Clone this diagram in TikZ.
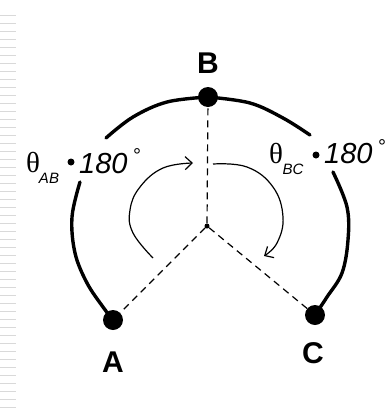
\documentclass[tikz,border=0pt]{standalone}
\usepackage{fontspec}
\setmainfont{Liberation Sans}
\newfontfamily\thetafont{Liberation Serif}
\usetikzlibrary{arrows.meta}
\begin{document}
\begin{tikzpicture}[x=1pt,y=-1pt,
  bigdot/.style={circle,fill=black,inner sep=0pt,minimum size=20pt},
  smalldot/.style={circle,fill=black,inner sep=0pt,minimum size=5pt},
  bullet/.style={circle,fill=black,inner sep=0pt,minimum size=7pt},
  arcline/.style={line width=3.4pt,line cap=round},
  radius line/.style={line width=1.2pt,dash pattern=on 7pt off 5pt},
  turn/.style={line width=1.2pt,-{Straight Barb[length=7pt,width=13pt,line width=1.2pt]}},
  letter/.style={font=\fontsize{30}{30}\selectfont\bfseries,inner sep=0pt},
  theta/.style={font=\fontsize{29}{29}\selectfont\thetafont,inner sep=0pt},
  sub/.style={font=\fontsize{15}{15}\selectfont\itshape,inner sep=0pt},
  deg/.style={font=\fontsize{29}{29}\selectfont\itshape,inner sep=0pt,anchor=base west},
  degsign/.style={font=\fontsize{20}{20}\selectfont,inner sep=0pt}]
\useasboundingbox (0,0) rectangle (386,416);
% left margin rules
\foreach \yy in {15,23,...,408} \draw[gray!30,line width=1pt] (0,\yy) -- (16,\yy);
% points
\node[smalldot] (O) at (207,226) {};
\node[bigdot] (B) at (208,97) {};
\node[bigdot] (A) at (113,320) {};
\node[bigdot] (C) at (315,315) {};
% arcs
\draw[arcline] plot[smooth,tension=0.6] coordinates {(208,97) (167,102) (133,117) (106,138)};
\draw[arcline] plot[smooth,tension=0.6] coordinates {(80,182) (72,217) (75,253) (87,283) (103,307) (113,320)};
\draw[arcline] plot[smooth,tension=0.6] coordinates {(208,97) (250,103) (283,118) (310,135)};
\draw[arcline] plot[smooth,tension=0.6] coordinates {(333,172) (347,207) (348,240) (342,273) (327,297) (315,315)};
% radii
\draw[radius line] (O) -- (B);
\draw[radius line] (O) -- (A);
\draw[radius line] (O) -- (C);
% rotation arrows
\draw[turn] plot[smooth,tension=0.7] coordinates {(153,258) (133,233) (130,210) (140,187) (163,168) (193,163)};
\draw[turn] plot[smooth,tension=0.7] coordinates {(213,164) (247,167) (273,187) (283,217) (277,243) (264,256)};
% letters
\node[letter] (LB) at (208,63) {B};
\node[letter] (LA) at (113,362) {A};
\node[letter] (LC) at (313,353) {C};
% left label
\node[theta] (th1) at (33,162) {θ};
\node[sub] (s1) at (49,178) {AB};
\node[bullet] (b1) at (71,162) {};
\node[deg] (d1) at (79,173) {180};
\node[degsign] (o1) at (137,156) {°};
% right label
\node[theta] (th2) at (276,153) {θ};
\node[sub] (s2) at (293,169) {BC};
\node[bullet] (b2) at (316,155) {};
\node[deg] (d2) at (324,163) {180};
\node[degsign] (o2) at (382,147) {°};
\end{tikzpicture}
\end{document}
